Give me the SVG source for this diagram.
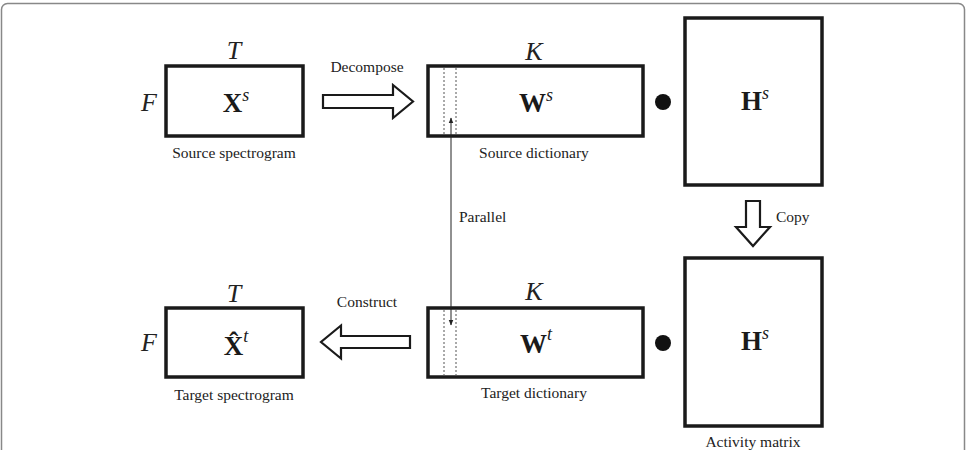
<svg xmlns="http://www.w3.org/2000/svg" width="966" height="450" viewBox="0 0 966 450">
<style>
.box{fill:#fff;stroke:#1a1a1a;stroke-width:3.5}
.fat{fill:#fff;stroke:#1a1a1a;stroke-width:2.2;stroke-linejoin:miter}
.dot{fill:none;stroke:#555;stroke-width:1;stroke-dasharray:2,2}
.lbl{font-family:"Liberation Serif",serif;font-size:15.5px;fill:#222;text-anchor:middle}
.lbls{font-family:"Liberation Serif",serif;font-size:15.5px;fill:#222}
.it{font-family:"Liberation Serif",serif;font-style:italic;font-size:26px;fill:#222;text-anchor:middle}
.bm{font-family:"Liberation Serif",serif;font-weight:bold;font-size:27px;fill:#1a1a1a;text-anchor:middle}
.sup{font-family:"Liberation Serif",serif;font-style:italic;font-weight:normal;font-size:18px}
</style>
<defs>
<marker id="ah" viewBox="0 0 10 10" refX="9" refY="5" markerWidth="6" markerHeight="6" orient="auto-start-reverse" markerUnits="userSpaceOnUse">
<path d="M0,1 L10,5 L0,9 z" fill="#222"/>
</marker>
</defs>
<rect x="1.5" y="3.5" width="963" height="470" rx="6" fill="none" stroke="#888" stroke-width="1.5"/>

<g id="source-spectrogram">
<rect class="box" x="166" y="66" width="137" height="70"/>
<text class="it" x="234" y="59">T</text>
<text class="it" x="149" y="111">F</text>
<text class="bm" x="236" y="112">X<tspan class="sup" dy="-11">s</tspan></text>
<text class="lbl" x="234" y="158">Source spectrogram</text>
</g>

<g id="source-dictionary">
<rect class="box" x="428" y="66" width="215" height="70"/>
<line class="dot" x1="444" y1="68" x2="444" y2="134"/>
<line class="dot" x1="456" y1="68" x2="456" y2="134"/>
<text class="it" x="534" y="60">K</text>
<text class="bm" x="536" y="112">W<tspan class="sup" dy="-11">s</tspan></text>
<text class="lbl" x="534" y="158">Source dictionary</text>
<circle cx="663" cy="102" r="8" fill="#111"/>
</g>

<g id="source-activity">
<rect class="box" x="685" y="18" width="137" height="167"/>
<text class="bm" x="755" y="110">H<tspan class="sup" dy="-11">s</tspan></text>
</g>

<g id="target-spectrogram">
<rect class="box" x="166" y="308" width="137" height="69"/>
<text class="it" x="234" y="302">T</text>
<text class="it" x="149" y="351">F</text>
<text class="bm" x="236" y="355">X&#770;<tspan class="sup" dy="-13">t</tspan></text>
<text class="lbl" x="234" y="400">Target spectrogram</text>
</g>

<g id="target-dictionary">
<rect class="box" x="428" y="308" width="215" height="69"/>
<line class="dot" x1="444" y1="310" x2="444" y2="375"/>
<line class="dot" x1="456" y1="310" x2="456" y2="375"/>
<text class="it" x="534" y="300">K</text>
<text class="bm" x="536" y="353">W<tspan class="sup" dy="-13">t</tspan></text>
<text class="lbl" x="534" y="398">Target dictionary</text>
<circle cx="663" cy="343" r="8" fill="#111"/>
</g>

<g id="activity-matrix">
<rect class="box" x="685" y="258" width="137" height="168"/>
<text class="bm" x="755" y="350">H<tspan class="sup" dy="-11">s</tspan></text>
<text class="lbl" x="753" y="447">Activity matrix</text>
</g>

<g id="connectors">
<polygon class="fat" points="323,95 393,95 393,85 413,101.5 393,118 393,108 323,108"/>
<text class="lbl" x="367" y="72">Decompose</text>
<polygon class="fat" points="746,201 760,201 760,227 770,227 753,246 736,227 746,227"/>
<text class="lbls" x="776" y="222">Copy</text>
<polygon class="fat" points="410,336 341,336 341,325.5 321,342 341,358.5 341,348 410,348"/>
<text class="lbl" x="367" y="307">Construct</text>
<line x1="451" y1="118" x2="451" y2="325" stroke="#222" stroke-width="1" marker-start="url(#ah)" marker-end="url(#ah)"/>
<text class="lbls" x="459" y="222">Parallel</text>
</g>
</svg>
